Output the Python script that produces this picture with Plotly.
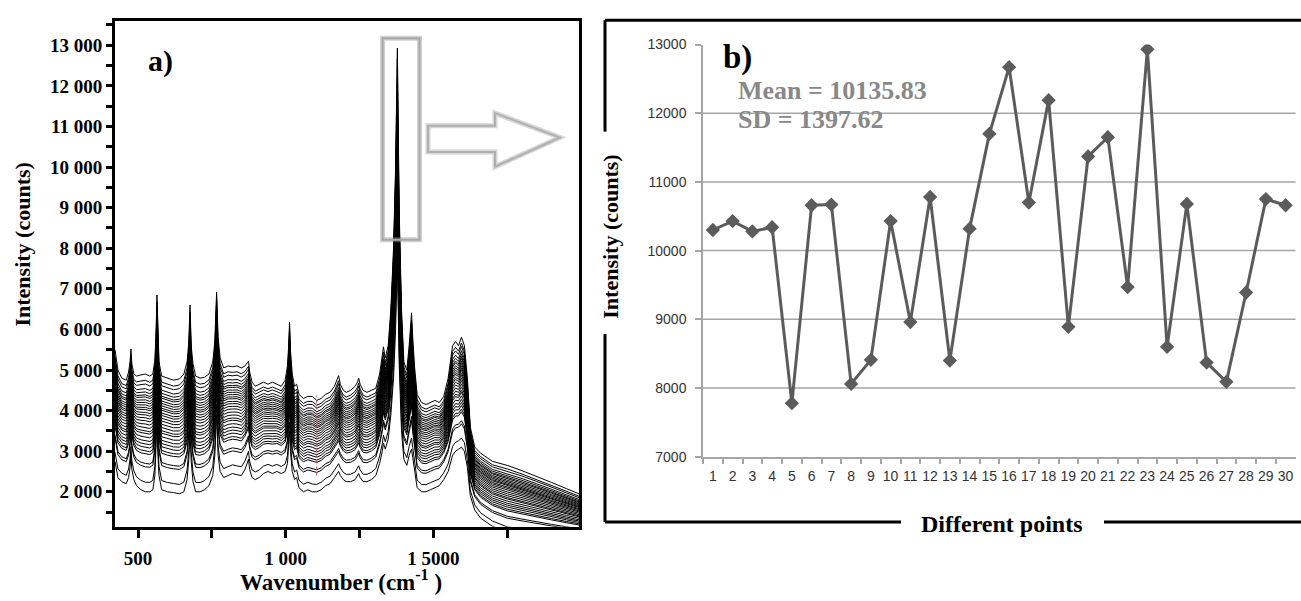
import plotly.graph_objects as go

W, H = 1301, 601

# ---------------- Panel a: Raman spectra (key points) ----------------
wavenumber = [422, 432, 445, 460, 468, 473, 476, 479, 486, 495, 510, 525, 540, 550, 557, 561, 564, 567, 571,
              580, 600, 620, 640, 655, 666, 672, 676, 680, 686, 695, 710, 725, 740, 753, 760, 766, 771, 778,
              790, 805, 820, 835, 850, 862, 870, 874, 878, 886, 897, 910, 925, 940, 955, 970, 985, 998, 1006,
              1010, 1013, 1016, 1022, 1030, 1037, 1045, 1060, 1075, 1090, 1105, 1120, 1135, 1150, 1165, 1174,
              1179, 1185, 1195, 1205, 1220, 1235, 1243, 1247, 1252, 1262, 1275, 1290, 1305, 1318, 1327, 1331,
              1337, 1347, 1356, 1365, 1372, 1378, 1384, 1392, 1400, 1410, 1418, 1423, 1426, 1430, 1436, 1445,
              1460, 1475, 1490, 1505, 1520, 1535, 1550, 1565, 1575, 1585, 1595, 1605, 1615, 1625, 1640, 1660,
              1700, 1750, 1800, 1850, 1900, 1950, 1993]

# highest spectrum of the bundle (main peak at 1378 taken from panel b values)
high_spectrum = [5500, 5000, 4800, 4750, 4950, 5200, 5520, 5150, 4900, 4850, 4880, 4900, 4850, 4900, 5250, 5900, 6850, 5800, 5200,
                 4850, 4800, 4750, 4780, 4900, 5200, 5700, 6600, 5600, 5150, 4850, 4800, 4820, 4900, 5200, 5700, 6920, 5800, 5300,
                 5050, 5100, 5080, 5100, 5050, 5100, 5180, 5220, 4950, 4700, 4600, 4650, 4700, 4650, 4700, 4650, 4600, 4750, 5100,
                 5600, 6180, 5500, 4900, 4600, 4650, 4400, 4300, 4350, 4350, 4250, 4300, 4400, 4450, 4600, 4750,
                 4860, 4650, 4500, 4450, 4500, 4600, 4700, 4800, 4650, 4500, 4450, 4500, 4550, 4900, 5300, 5570,
                 5300, 5600, 6500, 8000, 10000, None, 9000, 6500, 5200, 5000, 5600, 6000, 6410, 5800, 5100, 4400,
                 4200, 4150, 4200, 4250, 4200, 4350, 4800, 5600, 5700, 5600, 5810, 5600, 4800, 3600, 3100, 2950,
                 2750, 2650, 2520, 2380, 2230, 2080, 1950]

# lowest spectrum of the bundle
low_spectrum = [2750, 2350, 2250, 2200, 2350, 2600, 2900, 2550, 2300, 2150, 2050, 2000, 2000, 2050, 2400, 3000, 3700, 2950, 2400,
                2050, 2000, 1980, 1950, 2000, 2300, 2800, 3500, 2750, 2250, 2000, 2000, 2050, 2150, 2400, 2900, 3900, 2900, 2500,
                2350, 2400, 2450, 2420, 2400, 2550, 2750, 2800, 2550, 2350, 2300, 2350, 2450, 2500, 2450, 2500, 2450, 2500, 2700,
                3100, 3500, 3000, 2500, 2300, 2350, 2100, 2000, 2050, 2000, 2000, 2050, 2150, 2200, 2350, 2450,
                2500, 2400, 2300, 2250, 2250, 2300, 2400, 2450, 2350, 2250, 2250, 2300, 2400, 2700, 3000, 3200,
                3050, 3300, 3900, 4800, 6000, None, 5200, 3500, 2800, 2650, 2900, 3000, 3050, 2850, 2500, 2100,
                2000, 2000, 2050, 2100, 2150, 2300, 2500, 2900, 3000, 3050, 3100, 3000, 2600, 1900, 1550, 1350,
                1150, 1000, 950, 900, 870, 840, 820]

# background level (around 620 cm-1) of each of the 30 spectra
baseline_levels = [3520, 3750, 3440, 3680, 1970, 3880, 4000, 2200, 2950, 3820,
                   3200, 4250, 2880, 3600, 4450, 4650, 4120, 4560, 3120, 4300,
                   4370, 3380, 4800, 3040, 4060, 2650, 2570, 3290, 4180, 3950]
level_low, level_high = 1970, 4800

cursor_wn = 1105
cursor_span = [2400, 4370]

# ---------------- Panel b: intensity of the main band at 30 points ----------------
points = [str(i) for i in range(1, 31)]
intensity_b = [10300, 10430, 10280, 10340, 7780, 10660, 10670, 8060, 8410, 10430,
               8960, 10780, 8400, 10320, 11700, 12670, 10700, 12190, 8890, 11370,
               11650, 9470, 12930, 8600, 10680, 8370, 8090, 9390, 10750, 10660]

a_yticks = list(range(1500, 13501, 500))
a_yticktext = [(f"{v // 1000} 000" if v % 1000 == 0 else "") for v in a_yticks]
a_xticks = [500, 750, 1000, 1250, 1500, 1750]
a_xticktext = ["500", "", "1 000", "", "1 5000", ""]
b_yticks = [7000, 8000, 9000, 10000, 11000, 12000, 13000]
b_yticktext = [str(v) for v in b_yticks]
b_grid = [8000, 9000, 10000, 11000, 12000]


def px(x):
    return x / W


def py(y):
    return 1 - y / H


SERIF = "Liberation Serif"
SANS = "Liberation Sans"

fig = go.Figure()

for i, lvl in enumerate(baseline_levels):
    f = (lvl - level_low) / (level_high - level_low)
    ys = [(lo + f * (hi - lo)) if lo is not None else intensity_b[i]
          for lo, hi in zip(low_spectrum, high_spectrum)]
    fig.add_trace(go.Scatter(x=wavenumber, y=ys, mode="lines",
                             line=dict(color="black", width=1), hoverinfo="skip",
                             xaxis="x", yaxis="y"))

fig.add_trace(go.Scatter(x=points, y=intensity_b, mode="lines+markers",
                         line=dict(color="#5b5b5b", width=3),
                         marker=dict(symbol="diamond", size=11, color="#5b5b5b"),
                         xaxis="x2", yaxis="y2"))

shapes = []
for v in b_grid:
    shapes.append(dict(type="line", xref="x2 domain", x0=0, x1=1, yref="y2", y0=v, y1=v,
                       line=dict(color="#a6a6a6", width=1.5), layer="below"))
shapes.append(dict(type="line", xref="x", yref="y", x0=cursor_wn, x1=cursor_wn,
                   y0=cursor_span[0], y1=cursor_span[1],
                   line=dict(color="#c05050", width=1, dash="dot")))
shapes.append(dict(type="rect", xref="x", yref="y", x0=1328, x1=1453, y0=8210, y1=13175,
                   line=dict(color="rgba(150,150,150,0.45)", width=5)))
shapes.append(dict(type="rect", xref="x", yref="y", x0=1328, x1=1453, y0=8210, y1=13175,
                   line=dict(color="#a8a8a8", width=2)))
arrow = [(428, 121), (495, 121), (495, 108), (560, 133), (495, 163), (495, 148), (428, 148)]
path = "M " + " L ".join(f"{px(x):.5f} {py(y):.5f}" for x, y in arrow) + " Z"
shapes.append(dict(type="path", xref="paper", yref="paper", path=path,
                   line=dict(color="rgba(150,150,150,0.4)", width=5), fillcolor="white"))
shapes.append(dict(type="path", xref="paper", yref="paper", path=path,
                   line=dict(color="#b0b0b0", width=2), fillcolor="rgba(0,0,0,0)"))
for (x0, y0, x1, y1) in [(605, 12.5, 1301, 12.5), (605, 12.5, 605, 127), (605, 335, 605, 528),
                         (605, 528, 901, 528), (1104, 528, 1301, 528)]:
    shapes.append(dict(type="line", xref="paper", yref="paper", x0=px(x0), y0=py(y0), x1=px(x1), y1=py(y1),
                       line=dict(color="black", width=3)))

annotations = [
    dict(text="<b>a)</b>", x=px(160), y=py(54), font=dict(family=SERIF, size=30, color="black")),
    dict(text="<b>b)</b>", x=px(737), y=py(51), font=dict(family=SERIF, size=33, color="black")),
    dict(text="<b>Mean = 10135.83</b>", x=px(736), y=py(85), xanchor="left",
         font=dict(family=SERIF, size=26, color="#888888")),
    dict(text="<b>SD = 1397.62</b>", x=px(736), y=py(115), xanchor="left",
         font=dict(family=SERIF, size=26, color="#888888")),
    dict(text="<b>Intensity (counts)</b>", x=px(23), y=py(243), textangle=-90,
         font=dict(family=SERIF, size=22, color="black")),
    dict(text="<b>Wavenumber (cm<sup>-1</sup> )</b>", x=px(341), y=py(588),
         font=dict(family=SERIF, size=23, color="black")),
    dict(text="<b>Intensity (counts)</b>", x=px(611), y=py(235), textangle=-90,
         font=dict(family=SERIF, size=22, color="black")),
    dict(text="<b>Different points</b>", x=px(1002), y=py(530),
         font=dict(family=SERIF, size=24, color="black")),
]
for a in annotations:
    a.update(xref="paper", yref="paper", showarrow=False)
    a.setdefault("xanchor", "center")
    a.setdefault("yanchor", "middle")

fig.update_layout(
    width=W, height=H, margin=dict(l=0, r=0, t=0, b=0),
    paper_bgcolor="white", plot_bgcolor="white", showlegend=False,
    xaxis=dict(domain=[px(115), px(579)], range=[422, 1993], showline=True, mirror=True,
               linecolor="black", linewidth=3, ticks="outside", ticklen=8, tickwidth=2.5,
               tickcolor="black", tickvals=a_xticks, ticktext=a_xticktext,
               tickfont=dict(family=SERIF, size=19, color="black", weight="bold"),
               showgrid=False, zeroline=False, ticklabelstandoff=4, anchor="y"),
    yaxis=dict(domain=[py(533), py(13)], range=[1137, 13607], showline=True, mirror=True,
               linecolor="black", linewidth=3, ticks="outside", ticklen=6, tickwidth=2.5,
               tickcolor="black", tickvals=a_yticks, ticktext=a_yticktext,
               tickfont=dict(family=SERIF, size=19, color="black", weight="bold"),
               showgrid=False, zeroline=False, anchor="x"),
    xaxis2=dict(domain=[px(703), px(1295.5)], type="category", range=[-0.5, 29.5],
                tickson="boundaries", ticks="outside", ticklen=6, tickwidth=1.5, tickcolor="#a6a6a6",
                showline=True, linecolor="#a6a6a6", linewidth=1.5, showgrid=False, zeroline=False,
                tickangle=0, tickfont=dict(family=SANS, size=14, color="#333333"),
                ticklabelstandoff=6, anchor="y2"),
    yaxis2=dict(domain=[py(461), py(37.5)], range=[7000, 13000], tickvals=b_yticks, ticktext=b_yticktext,
                showline=True, linecolor="#a6a6a6", linewidth=1.5, ticks="outside", ticklen=6,
                tickwidth=1.5, tickcolor="#a6a6a6", showgrid=False, zeroline=False,
                tickfont=dict(family=SANS, size=14, color="#333333"), ticklabelstandoff=6, anchor="x2"),
    shapes=shapes, annotations=annotations,
)

fig.write_html("out.html", config={"displayModeBar": False},
               post_script="document.body.style.margin='0';")
